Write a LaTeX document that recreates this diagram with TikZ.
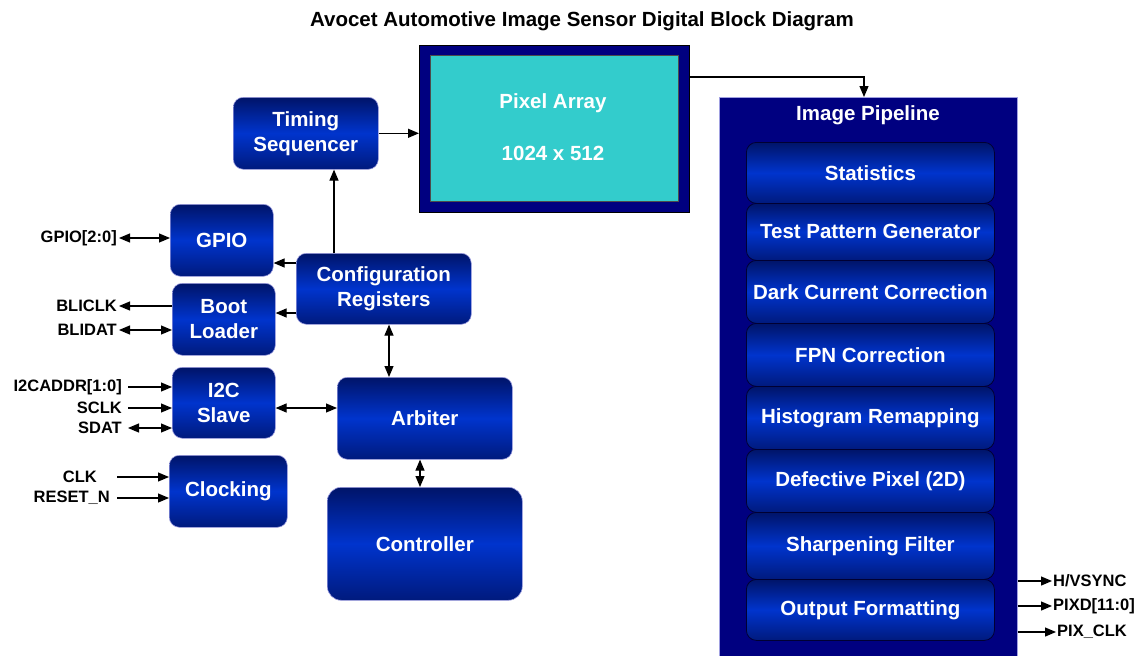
\documentclass[tikz,border=0pt]{standalone}
\usepackage{fontspec}
\setmainfont{Liberation Sans}
\usetikzlibrary{arrows.meta}
\definecolor{navyblue}{RGB}{0,0,128}
\definecolor{btop}{RGB}{0,20,105}
\definecolor{bmid}{RGB}{0,52,205}
\definecolor{bbot}{RGB}{0,26,125}
\definecolor{cyanfill}{RGB}{51,204,204}
\definecolor{edgeblue}{RGB}{160,160,225}
\tikzset{
  blk/.style={rounded corners=10pt, top color=btop, bottom color=bbot, middle color=bmid,
    draw=edgeblue, line width=0.6pt, text=white, align=center, inner sep=0pt, anchor=north west,
    font=\bfseries\fontsize{20.5}{25}\selectfont},
  pblk/.style={blk, draw=black!80!blue, line width=0.8pt},
  sig/.style={font=\bfseries\fontsize{16.5}{19}\selectfont, inner sep=2pt, anchor=east},
  outsig/.style={font=\bfseries\fontsize{16.5}{19}\selectfont, inner sep=1pt, anchor=west},
  tip/.style={},
  arr/.style={-{Triangle[length=11pt,width=9pt]}, line width=1.2pt},
  darr/.style={{Triangle[length=11pt,width=9pt]}-{Triangle[length=11pt,width=9pt]}, line width=1.2pt},
}
\begin{document}
\begin{tikzpicture}[x=1pt,y=-1pt]
\useasboundingbox (0,0) rectangle (1144,656);
% title
\node[font=\bfseries\fontsize{20.5}{24}\selectfont] (title) at (582,21) {Avocet Automotive Image Sensor Digital Block Diagram};

% Pixel array
\node[draw=black, fill=navyblue, line width=0.8pt, minimum width=270pt, minimum height=167pt, anchor=north west, inner sep=0pt] (pix) at (419,45) {};
\node[draw=black!70, fill=cyanfill, line width=0.8pt, minimum width=248pt, minimum height=146pt, anchor=north west, inner sep=0pt] (pixin) at (430,55) {};
\node[text=white, font=\bfseries\fontsize{20.5}{25}\selectfont] (pixt1) at (553,103) {Pixel Array};
\node[text=white, font=\bfseries\fontsize{20.5}{25}\selectfont] (pixt2) at (553,153) {1024 x 512};

% Image pipeline
\node[draw=edgeblue, fill=navyblue, line width=0.6pt, minimum width=298pt, minimum height=565pt, anchor=north west, inner sep=0pt] (pipe) at (719,97) {};
\node[text=white, font=\bfseries\fontsize{20.5}{25}\selectfont] (pipet) at (868,115) {Image Pipeline};

\node[pblk, minimum width=248pt, minimum height=61pt] (p1) at (746,142) {Statistics};
\node[pblk, minimum width=248pt, minimum height=57pt] (p2) at (746,203) {Test Pattern Generator};
\node[pblk, minimum width=248pt, minimum height=63pt] (p3) at (746,260) {Dark Current Correction};
\node[pblk, minimum width=248pt, minimum height=63pt] (p4) at (746,323) {FPN Correction};
\node[pblk, minimum width=248pt, minimum height=63pt] (p5) at (746,386) {Histogram Remapping};
\node[pblk, minimum width=248pt, minimum height=63pt] (p6) at (746,449) {Defective Pixel (2D)};
\node[pblk, minimum width=248pt, minimum height=67pt] (p7) at (746,512) {Sharpening Filter};
\node[pblk, minimum width=248pt, minimum height=61pt] (p8) at (746,579) {Output Formatting};

% left blocks
\node[blk, minimum width=145pt, minimum height=72pt] (tim) at (233,97) {Timing\\Sequencer};
\node[blk, minimum width=103pt, minimum height=72pt] (gpio) at (170,204) {GPIO};
\node[blk, minimum width=103pt, minimum height=72pt] (boot) at (172,283) {Boot\\Loader};
\node[blk, minimum width=103pt, minimum height=71pt] (i2c) at (172,367) {I2C\\Slave};
\node[blk, minimum width=118pt, minimum height=72pt] (clk) at (169,455) {Clocking};
\node[blk, minimum width=175pt, minimum height=71pt] (cfg) at (296,253) {Configuration\\Registers};
\node[blk, minimum width=175pt, minimum height=82pt] (arb) at (337,377) {Arbiter};
\node[blk, rounded corners=14pt, minimum width=195pt, minimum height=113pt] (ctl) at (327,487) {Controller};

% signal labels
\node[sig] (lgpio) at (119,238) {GPIO[2:0]};
\node[sig] (lbclk) at (119,306) {BLICLK};
\node[sig] (lbdat) at (119,330) {BLIDAT};
\node[sig] (li2ca) at (124,387) {I2CADDR[1:0]};
\node[sig] (lsclk) at (124,408) {SCLK};
\node[sig] (lsdat) at (124,428) {SDAT};
\node[sig] (lclk) at (99,477) {CLK};
\node[sig] (lrst) at (112,498) {RESET\_N};

\draw[darr] (lgpio.east) -- (lgpio.east -| gpio.west);
\draw[arr] (lbclk.east -| boot.west) -- (lbclk.east);
\draw[darr] (lbdat.east) -- (lbdat.east -| boot.west);
\draw[arr] ([xshift=4pt]li2ca.east) -- (li2ca.east -| i2c.west);
\draw[arr] ([xshift=4pt]lsclk.east) -- (lsclk.east -| i2c.west);
\draw[darr] ([xshift=4pt]lsdat.east) -- (lsdat.east -| i2c.west);
\draw[arr] ([xshift=18pt]lclk.east) -- (lclk.east -| clk.west);
\draw[arr] ([xshift=5pt]lrst.east) -- (lrst.east -| clk.west);

% internal connectors
\coordinate (cg) at (0,263);
\coordinate (cb) at (0,313);
\coordinate (cv) at (334,0);
\coordinate (ca) at (389,0);
\coordinate (ia) at (0,408);
\coordinate (ac) at (420,0);
\draw[arr] (cg -| cfg.west) -- (cg -| gpio.east);
\draw[arr] (cb -| cfg.west) -- (cb -| boot.east);
\draw[arr] (cv |- cfg.north) -- (cv |- tim.south);
\draw[darr] (ca |- cfg.south) -- (ca |- arb.north);
\draw[darr] (ia -| i2c.east) -- (ia -| arb.west);
\draw[darr] (ac |- arb.south) -- (ac |- ctl.north);
\draw[arr] (tim.east) -- (tim.east -| pix.west);
\coordinate (pp) at (864,77);
\draw[arr] (pp -| pix.east) -| (pp |- pipe.north);

% outputs
\node[outsig] (ohv) at (1052,581) {H/VSYNC};
\node[outsig] (opd) at (1052,606) {PIXD[11:0]};
\node[outsig] (opc) at (1056,632) {PIX\_CLK};
\draw[arr] (ohv.west -| pipe.east) -- (ohv.west);
\draw[arr] (opd.west -| pipe.east) -- (opd.west);
\draw[arr] (opc.west -| pipe.east) -- (opc.west);
\end{tikzpicture}
\end{document}
